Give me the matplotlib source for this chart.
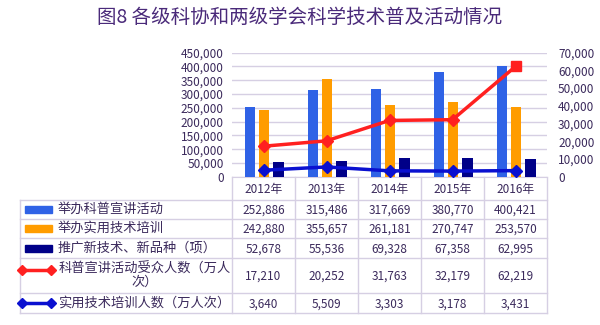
import matplotlib.pyplot as plt
import numpy as np

plt.rcParams['font.family'] = ['Noto Sans CJK SC', 'DejaVu Sans']

years = ["2012年", "2013年", "2014年", "2015年", "2016年"]
lectures = [252886, 315486, 317669, 380770, 400421]
trainings = [242880, 355657, 261181, 270747, 253570]
new_tech = [52678, 55536, 69328, 67358, 62995]
lecture_audience = [17210, 20252, 31763, 32179, 62219]
training_people = [3640, 5509, 3303, 3178, 3431]

series_names = [
    "举办科普宣讲活动",
    "举办实用技术培训",
    "推广新技术、新品种（项）",
    "科普宣讲活动受众人数（万人\n次）",
    "实用技术培训人数（万人次）",
]

TXT = "#3b2a5c"
GRID = "#d6cfe3"
C_BLUE = "#2f62e6"
C_ORANGE = "#ff9c00"
C_NAVY = "#000088"
C_RED = "#ff2020"
C_LBLUE = "#0a10d0"

W, H = 600, 325
fig = plt.figure(figsize=(6, 3.25), dpi=100)

# plot area in pixels
px0, px1, py_top, py_bot = 232, 547, 52.7, 176.7
ax = fig.add_axes([px0 / W, 1 - py_bot / H, (px1 - px0) / W, (py_bot - py_top) / H])
x = np.arange(len(years))
ax.bar(x - 0.21, lectures, width=0.16, color=C_BLUE, zorder=3)
ax.bar(x + 0.01, trainings, width=0.16, color=C_ORANGE, zorder=3)
ax.bar(x + 0.235, new_tech, width=0.17, color=C_NAVY, zorder=3)
ax.set_xlim(-0.5, len(years) - 0.5)
ax.set_ylim(0, 450000)
ax.set_yticks(np.arange(0, 450001, 50000))
ax.set_yticklabels([f"{v:,}" for v in range(0, 450001, 50000)], fontsize=8.5, color=TXT)
ax.set_xticks([])
ax.grid(axis="y", color=GRID, linewidth=1, zorder=0)
ax.tick_params(axis="y", length=0, pad=6)
for s in ["top", "right", "left"]:
    ax.spines[s].set_visible(False)
ax.spines["bottom"].set_color(GRID)

ax2 = ax.twinx()
ax2.set_ylim(0, 70000)
ax2.set_yticks(np.arange(0, 70001, 10000))
ax2.set_yticklabels([f"{v:,}" for v in range(0, 70001, 10000)], fontsize=8.5, color=TXT)
ax2.tick_params(axis="y", length=0, pad=8)
for s in ["top", "right", "left", "bottom"]:
    ax2.spines[s].set_visible(False)
ax2.plot(x, lecture_audience, color=C_RED, lw=2.5, marker="D", ms=6,
         markevery=list(range(len(years) - 1)), zorder=4)
ax2.plot(x[-1:], lecture_audience[-1:], color=C_RED, marker="s", ms=6.5, ls="none", zorder=5)
ax2.plot(x, training_people, color=C_LBLUE, lw=2.5, marker="D", ms=6, zorder=4)

fig.text(0.5, 1 - 17 / H, "图8 各级科协和两级学会科学技术普及活动情况",
         ha="center", va="center", fontsize=14, color="#4a2a7a")

# data table drawn in pixel coordinates
tab = fig.add_axes([0, 0, 1, 1])
tab.set_xlim(0, W)
tab.set_ylim(H, 0)
tab.axis("off")
tab.patch.set_alpha(0)

col_edges = np.linspace(px0, px1, len(years) + 1)
row_edges = [py_bot, 200, 219, 238, 258, 293, 313]
left = 20
lc = dict(color=GRID, lw=1)

for y in row_edges[1:]:
    tab.plot([left, px1], [y, y], **lc)
for xe in col_edges:
    tab.plot([xe, xe], [row_edges[0], row_edges[-1]], **lc)
tab.plot([left, left], [row_edges[1], row_edges[-1]], **lc)

for i, yr in enumerate(years):
    xc = (col_edges[i] + col_edges[i + 1]) / 2
    tab.text(xc, (row_edges[0] + row_edges[1]) / 2 + 1, yr, ha="center", va="center",
             fontsize=8.5, color=TXT)

rows = [lectures, trainings, new_tech, lecture_audience, training_people]
colors = [C_BLUE, C_ORANGE, C_NAVY, C_RED, C_LBLUE]
for r, (vals, name, c) in enumerate(zip(rows, series_names, colors)):
    y0, y1 = row_edges[r + 1], row_edges[r + 2]
    yc = (y0 + y1) / 2
    for i, v in enumerate(vals):
        xc = (col_edges[i] + col_edges[i + 1]) / 2
        tab.text(xc, yc + 1, f"{v:,}", ha="center", va="center", fontsize=8.5, color=TXT)
    if r < 3:
        tab.add_patch(plt.Rectangle((25, yc - 3.5), 27, 7, color=c))
        tab.text(58, yc, name, ha="left", va="center", fontsize=9.5, color=TXT)
    else:
        ky = yc - 6 if r == 3 else yc
        tab.plot([22, 51], [ky, ky], color=c, lw=2.5, marker="D", ms=5)
        if r == 3:
            tab.text(145, yc, name, ha="center", va="center", fontsize=9.5, color=TXT,
                     linespacing=1.05)
        else:
            tab.text(58, yc, name, ha="left", va="center", fontsize=9.5, color=TXT)

fig.savefig("out.png", dpi=100)
